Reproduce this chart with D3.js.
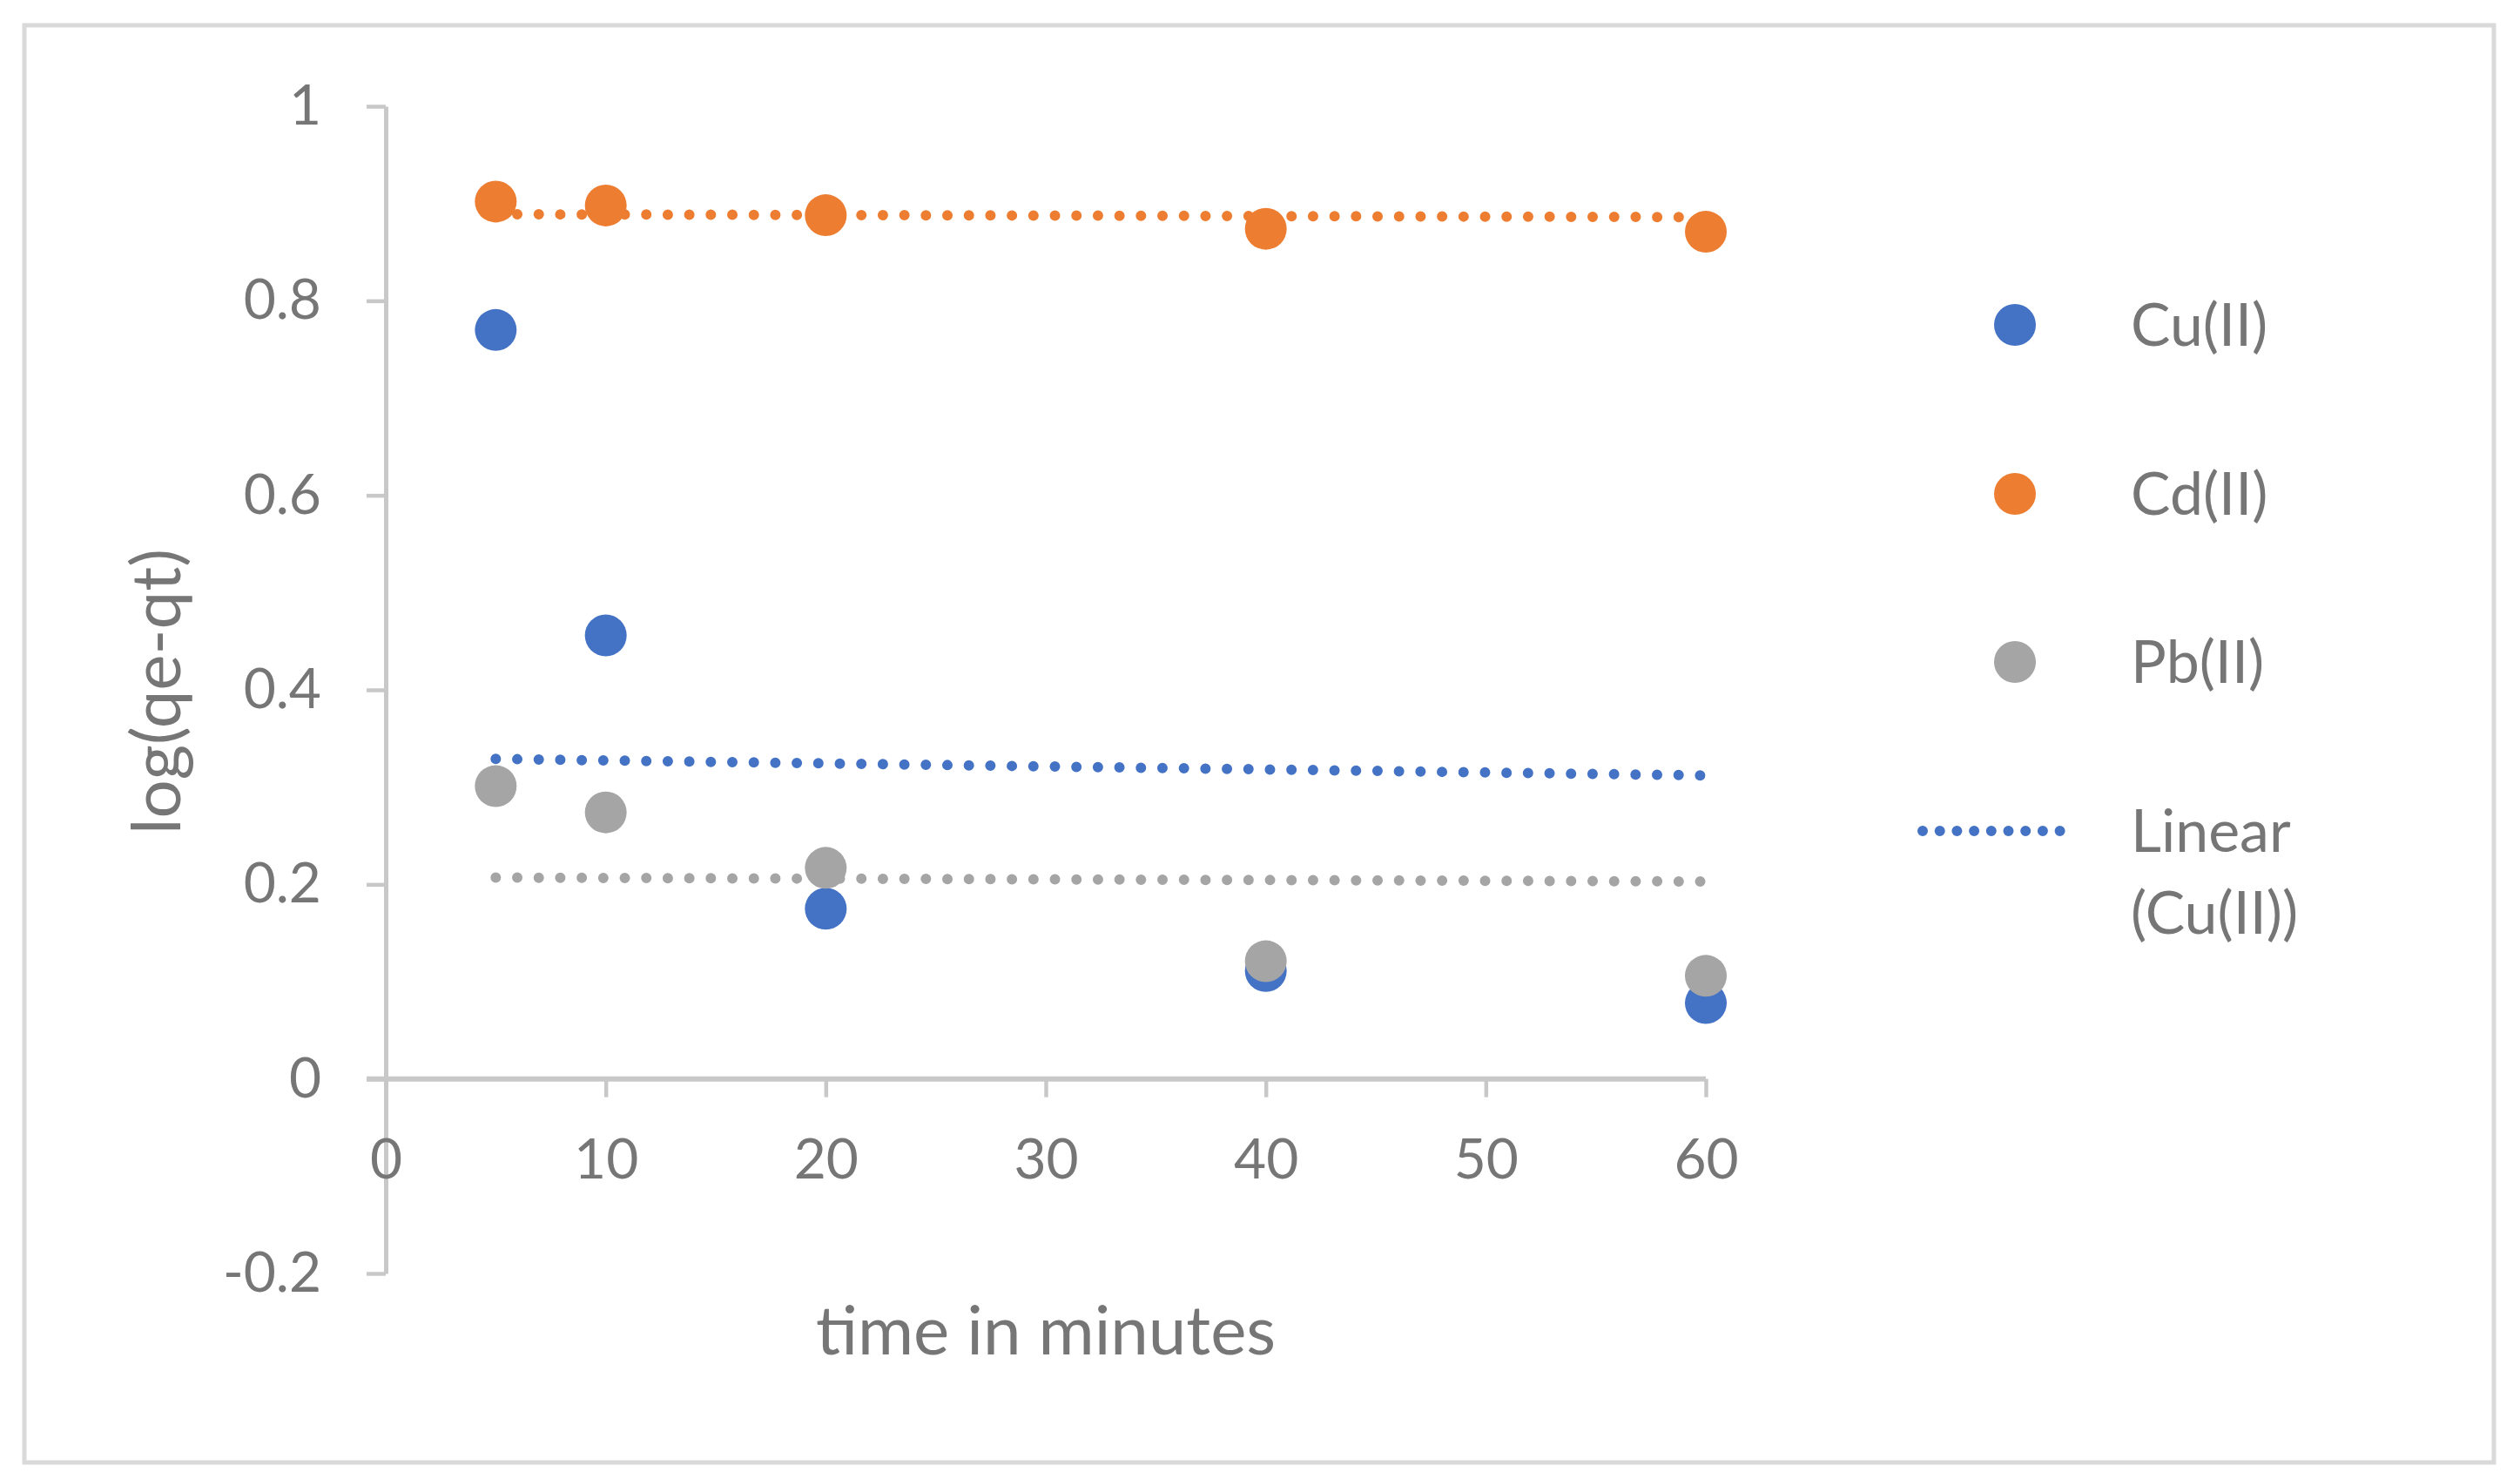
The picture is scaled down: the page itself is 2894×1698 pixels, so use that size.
<!DOCTYPE html>
<html>
<head>
<meta charset="utf-8">
<script src="https://cdn.jsdelivr.net/npm/d3@7"></script>
<style>
  html, body { margin: 0; padding: 0; background: #fff; }
  svg { display: block; font-family: Lato, 'Open Sans', sans-serif; }
</style>
</head>
<body>
<svg id="chart" width="2894" height="1698"></svg>
<script>
// time points (minutes)
const times = [5, 10, 20, 40, 60];

// log(qe-qt) per metal
const cuValues = [0.77, 0.456, 0.175, 0.111, 0.078];
const cdValues = [0.902, 0.898, 0.888, 0.874, 0.871];
const pbValues = [0.301, 0.274, 0.217, 0.121, 0.106];

// dotted trend lines as drawn: [value at first time, value at last time]
const cuTrend = [0.329, 0.312];
const cdTrend = [0.889, 0.886];
const pbTrend = [0.207, 0.203];

const xTicks = [0, 10, 20, 30, 40, 50, 60];
const yTicks = [-0.2, 0, 0.2, 0.4, 0.6, 0.8, 1];

const seriesNames = ['Cu(II)', 'Cd(II)', 'Pb(II)'];
const colors = ['#4472C4', '#ED7D31', '#A5A5A5'];

const series = [
  { name: seriesNames[0], values: cuValues, trend: cuTrend, color: colors[0] },
  { name: seriesNames[1], values: cdValues, trend: cdTrend, color: colors[1] },
  { name: seriesNames[2], values: pbValues, trend: pbTrend, color: colors[2] },
];

const svg = d3.select('#chart');
const textColor = '#767676';
const axisColor = '#c8c8c8';

// outer frame
svg.append('rect')
  .attr('x', 28).attr('y', 29)
  .attr('width', 2836).attr('height', 1650)
  .attr('fill', 'none')
  .attr('stroke', '#d9d9d9')
  .attr('stroke-width', 5);

const xScale = d3.scaleLinear().domain([0, 60]).range([443, 1959]);
const yScale = d3.scaleLinear().domain([-0.2, 1]).range([1462, 122]);

// y axis
const yAxis = d3.axisLeft(yScale)
  .tickValues(yTicks)
  .tickSize(22)
  .tickSizeOuter(0)
  .tickPadding(52)
  .tickFormat((d) => String(+d.toFixed(1)));

const yAxisG = svg.append('g')
  .attr('transform', `translate(${xScale(0)},0)`)
  .call(yAxis);

// x axis drawn at y = 0
const xAxis = d3.axisBottom(xScale)
  .tickValues(xTicks)
  .tickSize(21)
  .tickSizeOuter(0)
  .tickPadding(48);

const xAxisG = svg.append('g')
  .attr('transform', `translate(0,${yScale(0)})`)
  .call(xAxis);

[yAxisG, xAxisG].forEach((g) => {
  g.select('.domain').attr('stroke', axisColor).attr('stroke-width', 5);
  g.selectAll('.tick line').attr('stroke', axisColor).attr('stroke-width', 4.5);
  g.selectAll('.tick text')
    .attr('fill', textColor)
    .style('font-size', '64px')
    .style('font-family', 'Lato, sans-serif');
});
xAxisG.select('.domain').attr('d', `M${xScale(0) - 22},0H${xScale(60)}`).attr('stroke-width', 6);
xAxisG.selectAll('.tick').filter((d) => d === 0).select('line').remove();

// axis titles
svg.append('text')
  .attr('transform', `translate(207,794) rotate(-90)`)
  .attr('text-anchor', 'middle')
  .attr('fill', textColor)
  .style('font-size', '78px')
  .text('log(qe-qt)');

svg.append('text')
  .attr('x', xScale(30))
  .attr('y', 1555)
  .attr('text-anchor', 'middle')
  .attr('fill', textColor)
  .style('font-size', '78px')
  .text('time in minutes');

// trend lines (dotted)
const plotG = svg.append('g');

plotG.selectAll('.trend')
  .data(series)
  .join('line')
  .attr('class', 'trend')
  .attr('x1', xScale(times[0]))
  .attr('x2', xScale(times[times.length - 1]))
  .attr('y1', (d) => yScale(d.trend[0]))
  .attr('y2', (d) => yScale(d.trend[1]))
  .attr('stroke', (d) => d.color)
  .attr('stroke-width', 12)
  .attr('stroke-linecap', 'round')
  .attr('stroke-dasharray', '0 24.7');

// points
plotG.selectAll('.series')
  .data(series)
  .join('g')
  .attr('class', 'series')
  .attr('fill', (d) => d.color)
  .selectAll('circle')
  .data((d) => d.values.map((v, i) => ({ x: times[i], y: v })))
  .join('circle')
  .attr('cx', (d) => xScale(d.x))
  .attr('cy', (d) => yScale(d.y))
  .attr('r', 24);

// legend
const legendG = svg.append('g');
const legendY = [373, 567, 760];

legendG.selectAll('.legend-marker')
  .data(series)
  .join('circle')
  .attr('class', 'legend-marker')
  .attr('cx', 2314)
  .attr('cy', (d, i) => legendY[i])
  .attr('r', 24)
  .attr('fill', (d) => d.color);

legendG.selectAll('.legend-label')
  .data(series)
  .join('text')
  .attr('class', 'legend-label')
  .attr('x', 2447)
  .attr('y', (d, i) => legendY[i])
  .attr('dy', '0.35em')
  .attr('fill', textColor)
  .style('font-size', '68px')
  .text((d) => d.name);

legendG.append('line')
  .attr('x1', 2208).attr('x2', 2367)
  .attr('y1', 954).attr('y2', 954)
  .attr('stroke', colors[0])
  .attr('stroke-width', 12)
  .attr('stroke-linecap', 'round')
  .attr('stroke-dasharray', '0 19.7');

const linearText = legendG.append('text')
  .attr('x', 2447)
  .attr('fill', textColor)
  .style('font-size', '68px');
linearText.append('tspan').attr('x', 2447).attr('y', 954).attr('dy', '0.35em').text('Linear');
linearText.append('tspan').attr('x', 2447).attr('y', 1048).attr('dy', '0.35em').text('(Cu(II))');
</script>
</body>
</html>
